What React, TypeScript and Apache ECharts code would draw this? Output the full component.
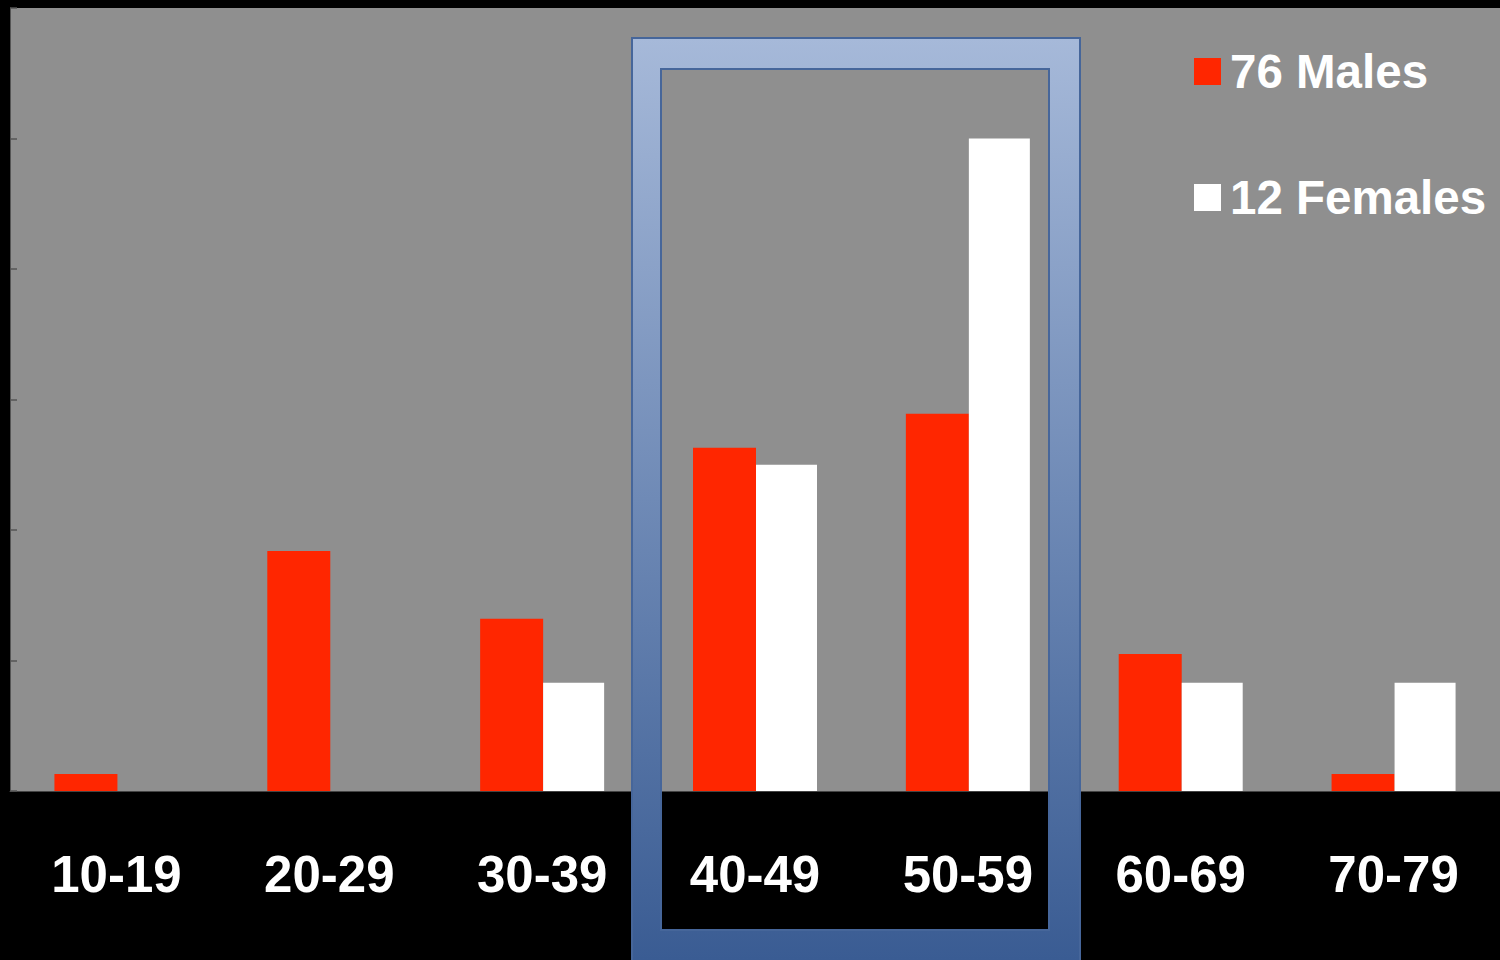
import React, { useEffect, useRef } from "react";
import * as echarts from "echarts";

// Age bands and the share (%) of each sex's cases falling in each band
const categories = ["10-19", "20-29", "30-39", "40-49", "50-59", "60-69", "70-79"];
const malePercent = [1.3, 18.4, 13.2, 26.3, 28.9, 10.5, 1.3];
const femalePercent = [0, 0, 8.3, 25, 50, 8.3, 8.3];
const seriesNames = ["76 Males", "12 Females"];
const yMin = 0;
const yMax = 60;
const yInterval = 10;

const FONT = "'Liberation Sans', Arial, Helvetica, sans-serif";
const FRAME_FILL = {
  type: "linear",
  x: 0,
  y: 38,
  x2: 0,
  y2: 960,
  global: true,
  colorStops: [
    { offset: 0, color: "#a6b9d9" },
    { offset: 0.5, color: "#6f8ab6" },
    { offset: 1, color: "#3a5c93" },
  ],
};
const FRAME_EDGE = "#46669a";

export default function App() {
  const ref = useRef<HTMLDivElement>(null);

  useEffect(() => {
    document.body.style.margin = "0";
    document.body.style.background = "#000";
    if (!ref.current) return;
    const chart = echarts.init(ref.current, null, { renderer: "svg" });

    // Highlight frame around the 40-59 age bands
    const outer = { x: 632, y: 38, w: 448, h: 940 };
    const inner = { x: 661, y: 69, w: 388, h: 861 };
    const bandRect = (x: number, y: number, w: number, h: number) => ({
      type: "rect",
      z: 100,
      shape: { x, y, width: w, height: h },
      style: { fill: FRAME_FILL },
      silent: true,
    });

    chart.setOption({
      animation: false,
      backgroundColor: "#000",
      textStyle: { fontFamily: FONT },
      grid: {
        left: 10,
        top: 8,
        right: 0,
        bottom: 169,
        show: true,
        backgroundColor: "#8f8f8f",
        borderWidth: 0,
      },
      legend: {
        orient: "vertical",
        left: 1189,
        top: 37,
        itemWidth: 27,
        itemHeight: 27,
        itemGap: 67,
        icon: "rect",
        data: seriesNames,
        textStyle: {
          color: "#fff",
          fontSize: 47.5,
          fontWeight: "bold",
          fontFamily: FONT,
          lineHeight: 46,
          padding: [13, 0, 0, 4],
        },
      },
      xAxis: {
        type: "category",
        data: categories,
        axisLine: { show: true, lineStyle: { color: "#444", width: 1 } },
        axisTick: { show: false },
        axisLabel: {
          color: "#fff",
          fontSize: 51,
          fontWeight: "bold",
          fontFamily: FONT,
          margin: 83,
          verticalAlign: "middle",
          interval: 0,
        },
      },
      yAxis: {
        type: "value",
        min: yMin,
        max: yMax,
        interval: yInterval,
        axisLine: { show: true, lineStyle: { color: "#555", width: 1 } },
        axisTick: { show: true, inside: true, length: 7, lineStyle: { color: "#555", width: 1.5 } },
        axisLabel: { show: false },
        splitLine: { show: false },
      },
      series: [
        {
          name: seriesNames[0],
          type: "bar",
          data: malePercent,
          barWidth: 63,
          barGap: "0%",
          itemStyle: { color: "#ff2600" },
        },
        {
          name: seriesNames[1],
          type: "bar",
          data: femalePercent,
          barWidth: 61,
          barGap: "0%",
          itemStyle: { color: "#ffffff" },
        },
      ],
      graphic: [
        bandRect(outer.x, outer.y, outer.w, inner.y - outer.y),
        bandRect(outer.x, inner.y + inner.h, outer.w, outer.y + outer.h - inner.y - inner.h),
        bandRect(outer.x, inner.y, inner.x - outer.x, inner.h),
        bandRect(inner.x + inner.w, inner.y, outer.x + outer.w - inner.x - inner.w, inner.h),
        {
          type: "rect",
          z: 101,
          silent: true,
          shape: { x: outer.x, y: outer.y, width: outer.w, height: outer.h },
          style: { fill: "none", stroke: FRAME_EDGE, lineWidth: 2 },
        },
        {
          type: "rect",
          z: 101,
          silent: true,
          shape: { x: inner.x, y: inner.y, width: inner.w, height: inner.h },
          style: { fill: "none", stroke: FRAME_EDGE, lineWidth: 2 },
        },
      ],
    });

    return () => chart.dispose();
  }, []);

  return (
    <div
      ref={ref}
      style={{ position: "fixed", left: 0, top: 0, width: 1500, height: 960 }}
    />
  );
}
